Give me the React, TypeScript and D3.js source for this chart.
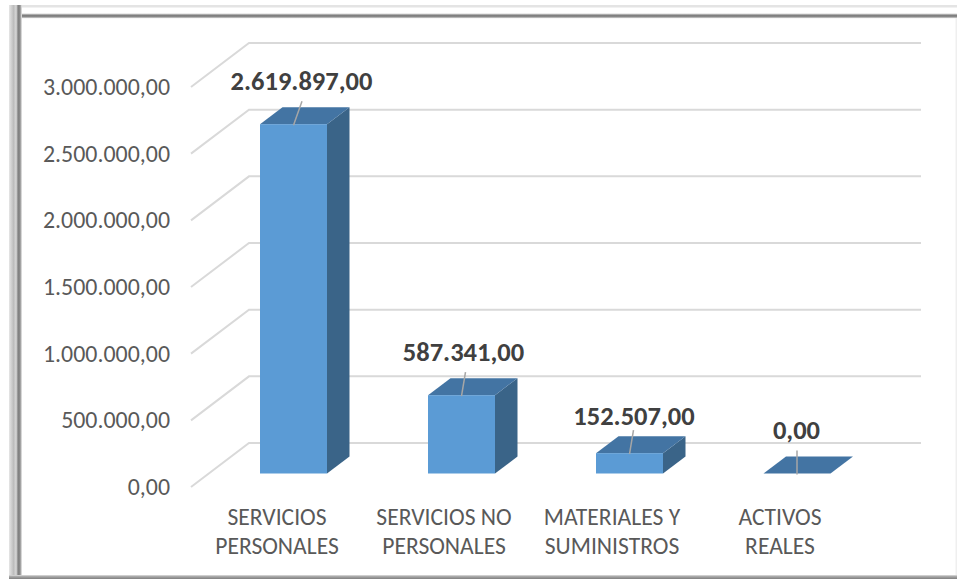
import React from "react";
import * as d3 from "d3";

const categories = [
  ["SERVICIOS", "PERSONALES"],
  ["SERVICIOS NO", "PERSONALES"],
  ["MATERIALES Y", "SUMINISTROS"],
  ["ACTIVOS", "REALES"],
];
const values = [2619897, 587341, 152507, 0];
const valueLabels = ["2.619.897,00", "587.341,00", "152.507,00", "0,00"];
const ticks = [0, 500000, 1000000, 1500000, 2000000, 2500000, 3000000];
const tickLabels = ["0,00", "500.000,00", "1.000.000,00", "1.500.000,00", "2.000.000,00", "2.500.000,00", "3.000.000,00"];

const W = 957, H = 579;
const FONT = "Carlito, Lato, 'Open Sans', sans-serif";

export default function App() {
  const y = d3.scaleLinear().domain([0, 3000000]).range([443, 43]);
  const floorDx = 58, floorDy = 44;
  const barOffY = 30.5, barDx = 22.5, barDy = 17;
  const bw = 67;
  const barX = [260, 428, 596, 763.5];

  return (
    <svg width={W} height={H} style={{ position: "fixed", left: 0, top: 0, background: "#fff" }} fontFamily={FONT}>
      <defs>
        <linearGradient id="leftBand" x1="0" x2="1" y1="0" y2="0">
          <stop offset="0" stopColor="#e6e6e6" />
          <stop offset="0.35" stopColor="#bdbdbd" />
          <stop offset="0.55" stopColor="#d8d8d8" />
          <stop offset="0.7" stopColor="#7f7f7f" />
          <stop offset="0.85" stopColor="#8c8c8c" />
          <stop offset="1" stopColor="#f0f0f0" />
        </linearGradient>
        <linearGradient id="topBand" x1="0" x2="0" y1="0" y2="1">
          <stop offset="0" stopColor="#d8d8d8" />
          <stop offset="0.4" stopColor="#7f7f7f" />
          <stop offset="0.65" stopColor="#8a8a8a" />
          <stop offset="1" stopColor="#f0f0f0" />
        </linearGradient>
        <linearGradient id="bottomBand" x1="0" x2="0" y1="0" y2="1">
          <stop offset="0" stopColor="#e0e0e0" />
          <stop offset="0.4" stopColor="#a6a6a6" />
          <stop offset="1" stopColor="#808080" />
        </linearGradient>
      </defs>
      {/* frame */}
      <rect x={9} y={5} width={948} height={2.5} fill="#e4e4e4" />
      <rect x={17} y={13.5} width={940} height={5} fill="url(#topBand)" />
      <rect x={9} y={5} width={13} height={570} fill="url(#leftBand)" />
      <rect x={9} y={575} width={948} height={4} fill="url(#bottomBand)" />
      <rect x={955.5} y={18} width={1.5} height={557} fill="#efefef" />
      {/* gridlines */}
      <g stroke="#d9d9d9" strokeWidth={2} fill="none">
        {ticks.map((t) => (
          <path key={t} d={`M${249 - floorDx},${y(t) + floorDy}L249,${y(t)}H921`} />
        ))}
      </g>
      {/* tick labels */}
      <g fill="#595959" fontSize={23.9} textAnchor="end">
        {ticks.map((t, i) => (
          <text key={t} x={170} y={y(t) + floorDy + 8}>{tickLabels[i]}</text>
        ))}
      </g>
      {/* bars */}
      {values.map((v, i) => {
        const x0 = barX[i];
        const base = y(0) + barOffY;
        const top = base - (y(0) - y(v));
        const x1 = x0 + bw;
        return (
          <g key={i}>
            {v > 0 && <path d={`M${x1},${top}L${x1 + barDx},${top - barDy}V${base - barDy}L${x1},${base}Z`} fill="#3a6488" />}
            <path d={`M${x0},${top}L${x0 + barDx},${top - barDy}H${x1 + barDx}L${x1},${top}Z`} fill="#4374a3" />
            {v > 0 && <rect x={x0} y={top} width={bw} height={base - top} fill="#5b9bd5" />}
            <path d={`M${x0 + 33.5},${top + 1}L${x0 + 33.5 + (i === 3 ? 0 : i === 0 ? 8.5 : 4)},${top - 23}`} stroke="#a6a6a6" strokeWidth={1.5} />
          </g>
        );
      })}
      {/* value labels */}
      <g fill="#404040" fontSize={26.5} fontWeight={700} textAnchor="middle">
        {values.map((v, i) => {
          const cx = [301.5, 463.5, 634, 796.5][i];
          const ly = [90, 361, 425, 439][i];
          return <text key={i} x={cx} y={ly}>{valueLabels[i]}</text>;
        })}
      </g>
      {/* category labels */}
      <g fill="#595959" fontSize={23.6} textAnchor="middle">
        {categories.map((c, i) => {
          const cx = [277, 444, 612, 780][i];
          return (
            <text key={i}>
              <tspan x={cx} y={525}>{c[0]}</tspan>
              <tspan x={cx} y={554}>{c[1]}</tspan>
            </text>
          );
        })}
      </g>
    </svg>
  );
}
